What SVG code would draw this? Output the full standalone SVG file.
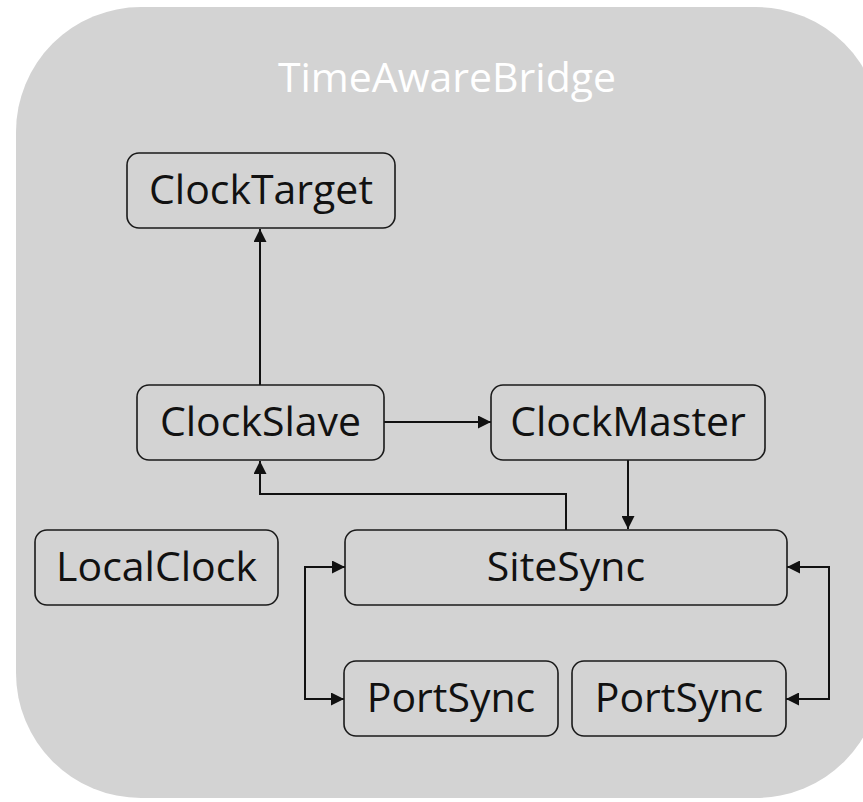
<svg xmlns="http://www.w3.org/2000/svg" width="863" height="802" viewBox="0 0 863 802">
  <style>
    .frame { fill: #d3d3d3; }
    .title { font-family: "Open Sans", "Liberation Sans", sans-serif; font-size: 41px; fill: #ffffff; text-anchor: middle; }
    .box { fill: none; stroke: #1a1a1a; stroke-width: 1.6; }
    .label { font-family: "Open Sans", "Liberation Sans", sans-serif; font-size: 41px; fill: #111111; text-anchor: middle; }
    .edge { fill: none; stroke: #111111; stroke-width: 2; }
  </style>
  <defs>
    <marker id="arrow" markerUnits="userSpaceOnUse" markerWidth="13" markerHeight="13" refX="13" refY="6.5" orient="auto-start-reverse">
      <path d="M0,0 L13,6.5 L0,13 Z" fill="#111111"/>
    </marker>
  </defs>

  <!-- bridge container -->
  <rect class="frame" x="16" y="7" width="865" height="791" rx="125" ry="125"/>
  <text class="title" x="447" y="92">TimeAwareBridge</text>

  <g id="connectors">
    <path class="edge" d="M260,385 V229" marker-end="url(#arrow)"/>
    <path class="edge" d="M384,422 H491" marker-end="url(#arrow)"/>
    <path class="edge" d="M628,460 V529" marker-end="url(#arrow)"/>
    <path class="edge" d="M566,530 V494 H260 V461" marker-end="url(#arrow)"/>
    <path class="edge" d="M345,567 H305 V699 H344" marker-start="url(#arrow)" marker-end="url(#arrow)"/>
    <path class="edge" d="M787,567 H829 V699 H786" marker-start="url(#arrow)" marker-end="url(#arrow)"/>
  </g>

  <g id="clock-target">
    <rect class="box" x="127" y="153" width="268" height="75" rx="12"/>
    <text class="label" x="261" y="204">ClockTarget</text>
  </g>
  <g id="clock-slave">
    <rect class="box" x="137" y="385" width="247" height="75" rx="12"/>
    <text class="label" x="260.5" y="436">ClockSlave</text>
  </g>
  <g id="clock-master">
    <rect class="box" x="491" y="385" width="274" height="75" rx="12"/>
    <text class="label" x="628" y="436">ClockMaster</text>
  </g>
  <g id="local-clock">
    <rect class="box" x="35" y="530" width="243" height="75" rx="12"/>
    <text class="label" x="156.5" y="581">LocalClock</text>
  </g>
  <g id="site-sync">
    <rect class="box" x="345" y="530" width="442" height="75" rx="12"/>
    <text class="label" x="566" y="581">SiteSync</text>
  </g>
  <g id="port-sync-1">
    <rect class="box" x="344" y="661" width="214" height="75" rx="12"/>
    <text class="label" x="451" y="712">PortSync</text>
  </g>
  <g id="port-sync-2">
    <rect class="box" x="572" y="661" width="214" height="75" rx="12"/>
    <text class="label" x="679" y="712">PortSync</text>
  </g>
</svg>
